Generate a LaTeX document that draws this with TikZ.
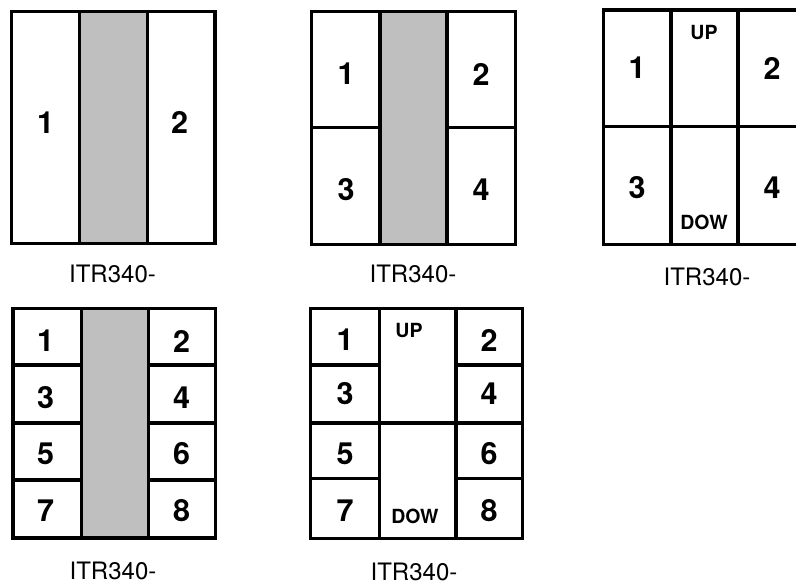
\documentclass[tikz,border=0pt]{standalone}
\usepackage{fontspec}
\setmainfont{TeX Gyre Heros}
\definecolor{colgray}{RGB}{191,191,191}
\tikzset{
  frame/.style={line width=3.3pt, draw=black},
  num/.style={font=\bfseries\fontsize{30.5}{30.5}\selectfont, inner sep=0pt},
  dirlabel/.style={font=\bfseries\fontsize{19.5}{19.5}\selectfont, inner sep=0pt},
  caption/.style={font=\fontsize{24}{24}\selectfont, inner sep=0pt},
}
\begin{document}
\begin{tikzpicture}[x=1pt,y=-1pt]
\useasboundingbox (0,0) rectangle (796,585);
\clip (0,0) rectangle (796,585);
% ---- Panel 1
\fill[colgray] (79.3,11.5) rectangle (147.3,243.3);
\draw[frame] (11.7,11.5) rectangle (215,243.3);
\draw[frame] (79.3,11.5) -- (79.3,243.3) (147.3,11.5) -- (147.3,243.3);
\node[num] (p1n1) at (45.5,122.5) {1};
\node[num] (p1n2) at (179.5,122.5) {2};
\node[caption] (p1cap) at (112.5,274) {ITR340-};
% ---- Panel 2
\fill[colgray] (380,11.7) rectangle (447,244.3);
\draw[frame] (311.7,11.7) rectangle (515.3,244.3);
\draw[frame] (380,11.7) -- (380,244.3) (447,11.7) -- (447,244.3);
\draw[frame] (311.7,127.7) -- (380,127.7) (447,127.7) -- (515.3,127.7);
\node[num] (p2n1) at (346,74) {1};
\node[num] (p2n2) at (481,74) {2};
\node[num] (p2n3) at (346,189.5) {3};
\node[num] (p2n4) at (481,189.5) {4};
\node[caption] (p2cap) at (413,274) {ITR340-};
% ---- Panel 3
\draw[frame] (603.3,10) rectangle (807,244.3);
\draw[frame] (671,10) -- (671,244.3) (738,10) -- (738,244.3);
\draw[frame] (603.3,126.7) -- (807,126.7);
\node[num] (p3n1) at (637,68) {1};
\node[num] (p3n2) at (772,68) {2};
\node[num] (p3n3) at (637,188) {3};
\node[num] (p3n4) at (772,188) {4};
\node[dirlabel] (p3up) at (704,32.5) {UP};
\node[dirlabel] (p3dn) at (704,222.5) {DOW};
\node[caption] (p3cap) at (707,277) {ITR340-};
% ---- Panel 4
\fill[colgray] (81.5,308.3) rectangle (148.5,538);
\draw[frame] (13,308.3) rectangle (215.8,538);
\draw[frame] (81.5,308.3) -- (81.5,538) (148.5,308.3) -- (148.5,538);
\foreach \yy in {365,423,480}{
  \draw[frame] (13,\yy) -- (81.5,\yy) (148.5,\yy) -- (215.8,\yy);
}
\node[num] (p4n1) at (45.5,341) {1};
\node[num] (p4n2) at (181.5,341) {2};
\node[num] (p4n3) at (45.5,397.5) {3};
\node[num] (p4n4) at (181.5,397.5) {4};
\node[num] (p4n5) at (45.5,454) {5};
\node[num] (p4n6) at (181.5,454) {6};
\node[num] (p4n7) at (45.5,511) {7};
\node[num] (p4n8) at (181.5,511) {8};
\node[caption] (p4cap) at (113,571) {ITR340-};
% ---- Panel 5
\draw[frame] (310.7,308.3) rectangle (522.5,538.5);
\draw[frame] (379.7,308.3) -- (379.7,538.5) (456,308.3) -- (456,538.5);
\draw[frame] (310.7,365) -- (379.7,365) (456,365) -- (522.5,365);
\draw[frame] (310.7,423) -- (522.5,423);
\draw[frame] (310.7,478.5) -- (379.7,478.5) (456,478.5) -- (522.5,478.5);
\node[num] (p5n1) at (345,340) {1};
\node[num] (p5n2) at (489,340) {2};
\node[num] (p5n3) at (345,393.5) {3};
\node[num] (p5n4) at (489,393.5) {4};
\node[num] (p5n5) at (345,454) {5};
\node[num] (p5n6) at (489,454) {6};
\node[num] (p5n7) at (345,511) {7};
\node[num] (p5n8) at (489,511) {8};
\node[dirlabel] (p5up) at (409,331) {UP};
\node[dirlabel] (p5dn) at (415,516.7) {DOW};
\node[caption] (p5cap) at (414,571.7) {ITR340-};
\end{tikzpicture}
\end{document}
